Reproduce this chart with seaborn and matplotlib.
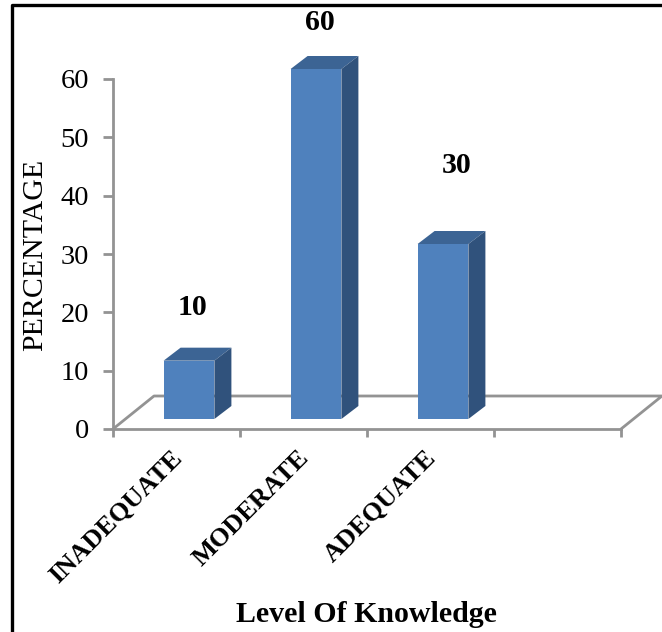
import matplotlib
matplotlib.use("Agg")
import matplotlib.pyplot as plt
import matplotlib.transforms as mtrans
from matplotlib.patches import Polygon
from matplotlib.lines import Line2D
import seaborn as sns
import pandas as pd

categories = ["INADEQUATE", "MODERATE", "ADEQUATE"]
values = [10, 60, 30]
y_ticks = [0, 10, 20, 30, 40, 50, 60]
x_title = "Level Of Knowledge"
y_title = "PERCENTAGE"

W, H = 662, 632
GRAY = "#939393"
FRONT, TOP, SIDE = "#4f81bd", "#3c6494", "#30527c"
SERIF = "Liberation Serif"

sns.set_theme(style="white")
plt.rcParams["font.family"] = [SERIF, "DejaVu Sans"]

fig = plt.figure(figsize=(W / 100, H / 100), dpi=100, facecolor="white")
ax = fig.add_axes([113 / W, 1 - 429 / H, 508 / W, 350 / H])
ax.patch.set_alpha(0)

df = pd.DataFrame({"level": categories, "pct": values})
sns.barplot(data=df, x="level", y="pct", color=FRONT, saturation=1, width=0.40, ax=ax, zorder=3,
            linewidth=0, edgecolor="none")

ax.set_xlim(-0.5, 3.5)
ax.set_ylim(0, 60)

px_x = 127 / 1.0       # pixels per category
px_y = 350 / 60        # pixels per percentage unit
offset = mtrans.ScaledTranslation(12.5 / 100, 10 / 100, fig.dpi_scale_trans)
shifted = ax.transData + offset
dx, dy = 17 / px_x, 13 / px_y

for bar in ax.patches:
    bar.set_transform(shifted)
    bar.set_clip_on(False)
for bar in list(ax.patches):
    x0, w, h = bar.get_x(), bar.get_width(), bar.get_height()
    ax.add_patch(Polygon([(x0, h), (x0 + w, h), (x0 + w + dx, h + dy), (x0 + dx, h + dy)],
                         closed=True, fc=TOP, ec="none", transform=shifted, clip_on=False, zorder=3))
    ax.add_patch(Polygon([(x0 + w, 0), (x0 + w + dx, dy), (x0 + w + dx, h + dy), (x0 + w, h)],
                         closed=True, fc=SIDE, ec="none", transform=shifted, clip_on=False, zorder=3))

# floor of the 3-D plot
fdx, fdy = 41 / px_x, 33 / px_y
ax.add_line(Line2D([-0.5, -0.5 + fdx, 3.5 + fdx, 3.5], [0, fdy, fdy, 0], color=GRAY, lw=2,
                   clip_on=False, zorder=1))

for s in ["top", "right"]:
    ax.spines[s].set_visible(False)
for s in ["left", "bottom"]:
    ax.spines[s].set_color(GRAY)
    ax.spines[s].set_linewidth(2)

ax.set_yticks(y_ticks)
ax.tick_params(axis="y", length=7.2, width=2, color=GRAY, labelsize=20.5, labelcolor="black", pad=10, left=True)
ax.set_xticks([0, 1, 2])
ax.set_xticks([-0.5, 0.5, 1.5, 2.5, 3.5], minor=True)
ax.tick_params(axis="x", which="minor", length=6, width=2, color=GRAY, bottom=True)
ax.tick_params(axis="x", which="major", length=0, pad=12.4)
ax.set_xticklabels(categories, rotation=45, ha="right", rotation_mode="anchor",
                   fontsize=19, fontweight="bold", color="black", family=SERIF)
label_shift = mtrans.ScaledTranslation(-6 / 100, 0, fig.dpi_scale_trans)
for t in ax.get_xticklabels():
    t.set_transform(t.get_transform() + label_shift)
for t in ax.get_yticklabels():
    t.set_family(SERIF)

ax.set_xlabel("")
ax.set_ylabel("")
fig.text(366 / W, 1 - 615 / H, x_title, ha="center", va="center", fontsize=21.5, fontweight="bold", color="black")
fig.text(35 / W, 1 - 255 / H, y_title, ha="center", va="center", rotation=90, fontsize=21.5, color="black")

label_dx = [15.5, 16, 26]
label_dy = [46, 39, 71]
for i, v in enumerate(values):
    ax.annotate(str(v), xy=(i, v), xycoords=shifted, xytext=((label_dx[i] - 12.5) * 0.72, label_dy[i] * 0.72),
                textcoords="offset points", ha="center", va="baseline", fontsize=21.5, fontweight="bold",
                color="black", annotation_clip=False)

# page border (top and left only)
fig.add_artist(Line2D([12 / W, 12 / W, 1], [0, 1 - 5 / H, 1 - 5 / H], color="black", lw=2.4,
                      transform=fig.transFigure))

fig.savefig("out.png", dpi=100)
